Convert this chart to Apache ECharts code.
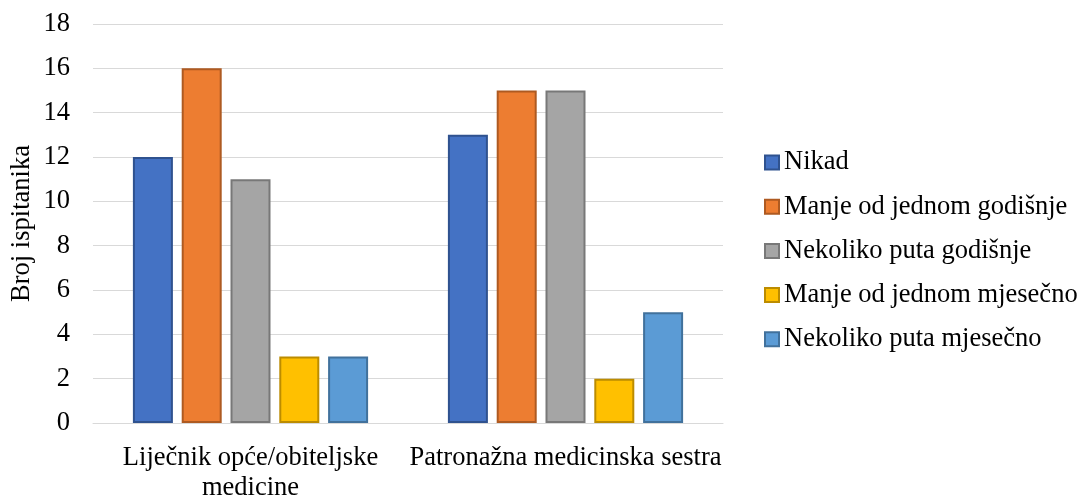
<!DOCTYPE html>
<html><head><meta charset="utf-8">
<script src="https://cdn.jsdelivr.net/npm/echarts@6/dist/echarts.min.js"></script>
<style>html,body{margin:0;padding:0;background:#fff}#c{width:1083px;height:497px}</style>
</head><body><div id="c"></div>
<script>
const categories = ['Liječnik opće/obiteljske\nmedicine', 'Patronažna medicinska sestra'];
const seriesNames = ['Nikad', 'Manje od jednom godišnje', 'Nekoliko puta godišnje', 'Manje od jednom mjesečno', 'Nekoliko puta mjesečno'];
const nikad = [12, 13];
const manjeGodisnje = [16, 15];
const nekolikoGodisnje = [11, 15];
const manjeMjesecno = [3, 2];
const nekolikoMjesecno = [3, 5];
const yTicks = [0, 2, 4, 6, 8, 10, 12, 14, 16, 18];

const fills = ['#4472C4', '#ED7D31', '#A5A5A5', '#FFC000', '#5B9BD5'];
const borders = ['#2F528F', '#AE5A21', '#787878', '#BC8C00', '#41719C'];
const values = [nikad, manjeGodisnje, nekolikoGodisnje, manjeMjesecno, nekolikoMjesecno];
const font = 'Liberation Serif';
const fs = 26.5;

const chart = echarts.init(document.getElementById('c'), null, {renderer: 'canvas'});
chart.setOption({
  animation: false,
  grid: {left: 93, right: 360, top: 24, bottom: 74, containLabel: false, outerBoundsMode: 'none'},
  legend: {
    orient: 'vertical', left: 759, top: 144,
    itemWidth: 14, itemHeight: 14, itemGap: 17.2,
    icon: 'rect',
    textStyle: {fontFamily: font, fontSize: fs, color: '#000', lineHeight: 26},
    data: seriesNames
  },
  xAxis: {
    type: 'category', data: categories,
    axisLine: {show: true, lineStyle: {color: '#D9D9D9', width: 1}},
    axisTick: {show: false},
    axisLabel: {fontFamily: font, fontSize: fs, color: '#000', lineHeight: 30, margin: 20, interval: 0}
  },
  yAxis: {
    type: 'value', min: yTicks[0], max: yTicks[yTicks.length - 1], interval: 2,
    name: 'Broj ispitanika', nameLocation: 'middle', nameGap: 57, nameRotate: 90,
    nameMoveOverlap: false,
    nameTextStyle: {fontFamily: font, fontSize: fs, color: '#000'},
    axisLine: {show: false}, axisTick: {show: false},
    axisLabel: {fontFamily: font, fontSize: fs, color: '#000', margin: 23},
    splitLine: {lineStyle: {color: '#D9D9D9', width: 1}}
  },
  series: seriesNames.map((n, i) => ({
    name: n, type: 'bar', data: values[i],
    barWidth: 40, barGap: '22%', barCategoryGap: '25%',
    itemStyle: {color: fills[i], borderColor: borders[i], borderWidth: 2}
  }))
});
</script></body></html>
